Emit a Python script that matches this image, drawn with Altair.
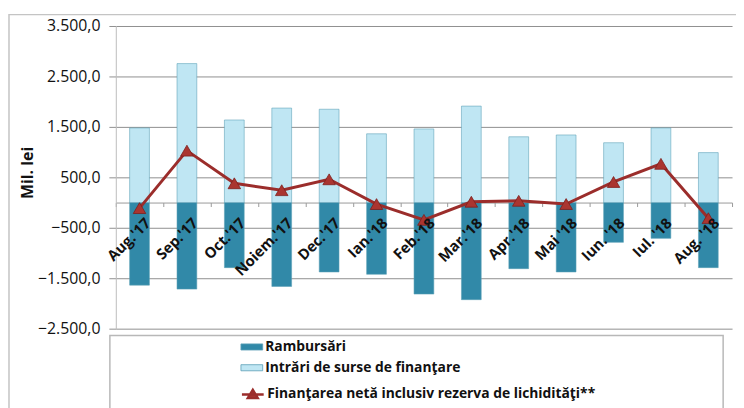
import altair as alt
import pandas as pd

months = ["Aug.'17", "Sep.'17", "Oct.'17", "Noiem.'17", "Dec.'17", "Ian.'18", "Feb.'18",
          "Mar.'18", "Apr.'18", "Mai '18", "Iun. '18", "Iul. '18", "Aug. '18"]
inflows = [1480, 2755, 1637, 1873, 1850, 1363, 1460, 1912, 1304, 1340, 1186, 1480, 990]
repayments = [-1637, -1716, -1290, -1663, -1376, -1422, -1814, -1925, -1310, -1376, -788, -709, -1290]
net = [-110, 1029, 382, 245, 461, -30, -343, 16, 35, -29, 408, 768, -310]

s_rep = "Rambursări"
s_in = "Intrări de surse de finanţare"
s_net = "Finanţarea netă inclusiv rezerva de lichidităţi**"
y_ticks = [-2500, -1500, -500, 500, 1500, 2500, 3500]

bars = pd.DataFrame({
    "month": months + months,
    "series": [s_rep] * len(months) + [s_in] * len(months),
    "value": repayments + inflows,
})
line = pd.DataFrame({"month": months, "net": net, "series": [s_net] * len(months)})
one = pd.DataFrame({"a": [0]})

FONT = "Open Sans"
x_enc = alt.X("month:N", sort=months, scale=alt.Scale(paddingInner=0, paddingOuter=0))

frame = alt.Chart(one).mark_rect(fillOpacity=0, stroke="#c4c4c4", strokeWidth=1.5).encode(
    x=alt.value(-108), x2=alt.value(700), y=alt.value(-11.5), y2=alt.value(500))
legbox = alt.Chart(one).mark_rect(fill="white", stroke="#b8b8b8", strokeWidth=1.5).encode(
    x=alt.value(-6), x2=alt.value(614), y=alt.value(313), y2=alt.value(420))

legend_common = dict(orient="none", title=None, labelFont=FONT, labelFontSize=14,
                     labelFontWeight="bold", labelColor="#111", labelOffset=2, padding=0,
                     labelLimit=600, symbolSize=484)

bar_layer = alt.Chart(bars).mark_bar(size=20, stroke="#5b9fb5", strokeWidth=0.8, strokeOpacity=0.7).encode(
    x=alt.X("month:N", sort=months, scale=alt.Scale(paddingInner=0, paddingOuter=0),
            axis=alt.Axis(orient="bottom", offset=-127.5, labels=False, title=None, grid=False,
                          ticks=True, tickBand="extent", tickSize=4, tickColor="#9a9a9a",
                          domainColor="#9a9a9a", domainWidth=1)),
    y=alt.Y("value:Q", stack=None, scale=alt.Scale(domain=[-2500, 3500], nice=False, zero=False),
            axis=alt.Axis(values=y_ticks, grid=True, gridColor="#8f8f8f", gridWidth=1,
                          domainColor="#bdbdbd", tickColor="#8f8f8f", tickSize=7,
                          labelPadding=9, labelFont=FONT, labelFontSize=16, labelColor="#111",
                          labelExpr="replace(replace(replace(format(datum.value, ',.1f'), ',', '#'), '.', ','), '#', '.')",
                          title="Mil. lei", titleFont=FONT, titleFontSize=16, titleFontWeight="bold",
                          titleColor="#111", titleX=-89, titleY=148, titleBaseline="middle",
                          titleAlign="center", titleAngle=270)),
    fill=alt.Fill("series:N", scale=alt.Scale(domain=[s_rep, s_in], range=["#3189a8", "#bfe6f3"]),
                  legend=alt.Legend(legendX=126, legendY=313,
                                    symbolType="M-1,-0.28H1V0.28H-1Z",
                                    symbolStrokeColor="#5b9fb5", symbolStrokeWidth=0.8,
                                    rowPadding=2, **legend_common)),
)

line_layer = alt.Chart(line).mark_line(color="#9b2d2b", strokeWidth=3).encode(
    x=x_enc, y=alt.Y("net:Q"))
pt_layer = alt.Chart(line).mark_point(shape="triangle-up", filled=True, size=160, opacity=1,
                                      stroke="#7d1f1c", strokeWidth=0.8).encode(
    x=x_enc, y=alt.Y("net:Q"),
    fill=alt.Fill("series:N", scale=alt.Scale(domain=[s_net], range=["#aa3530"]),
                  legend=alt.Legend(legendX=126, legendY=360,
                                    symbolType="M-1,0H1M-0.45,0.32L0,-0.42L0.45,0.32Z",
                                    symbolStrokeColor="#9b2d2b", symbolStrokeWidth=2.5,
                                    **legend_common)),
)

labels = alt.Chart(line).mark_text(angle=315, align="right", baseline="middle", dx=-7, dy=19,
                                   font=FONT, fontSize=15, fontWeight="bold", color="#111").encode(
    x=x_enc, y=alt.datum(0), text="month:N")

chart = alt.layer(frame, legbox, bar_layer, line_layer, pt_layer, labels).resolve_scale(
    fill="independent"
).properties(
    width=623, height=306,
    autosize=alt.AutoSizeParams(type="none"),
    padding={"left": 109, "top": 16, "right": 4, "bottom": 78},
    background="white",
).configure_view(stroke=None)

chart.save("out.html", embed_options={"renderer": "svg", "actions": False})
